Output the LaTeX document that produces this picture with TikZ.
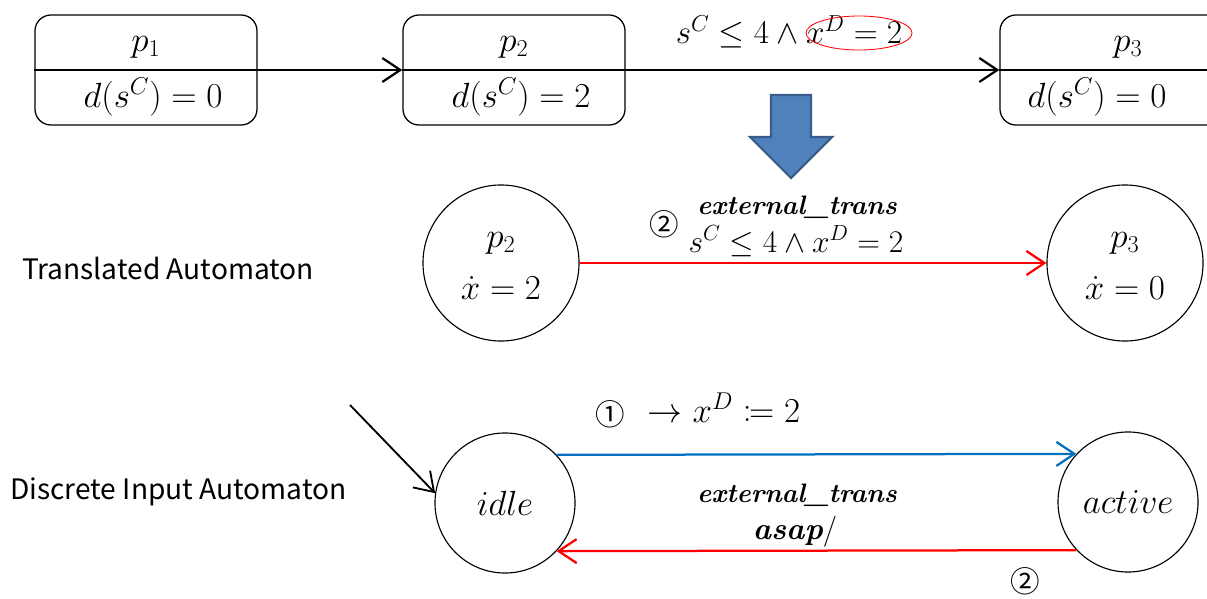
\documentclass[tikz,border=0pt]{standalone}
\usepackage{amsmath}
\usepackage{amssymb}
\usepackage{mathtools}
\usepackage{fontspec}
\newfontfamily\labelfont{Noto Sans CJK KR}
\newfontfamily\circfont{Noto Sans CJK KR}
\usepackage{tikz}
\usetikzlibrary{shapes.geometric, arrows.meta, positioning, calc}
\definecolor{transred}{HTML}{FF0000}
\definecolor{transblue}{HTML}{0070C0}
\definecolor{bigfill}{HTML}{4F81BD}
\definecolor{bigedge}{HTML}{385D8A}

\begin{document}
\begin{tikzpicture}[
  x=0.025cm, y=-0.025cm,
  location/.style={rectangle, draw, rounded corners=0.4cm, line width=0.9pt, minimum width=5.55cm, minimum height=2.75cm},
  mode/.style={circle, draw, line width=0.8pt, minimum size=3.9cm},
  dmode/.style={circle, draw, line width=0.8pt, minimum size=3.5cm, font=\fontsize{24}{28}\selectfont},
  lbl/.style={inner sep=0pt, font=\fontsize{23}{27}\selectfont},
  event/.style={inner sep=0pt, font=\fontsize{19}{24}\selectfont\bfseries\itshape},
  side/.style={inner sep=0pt, anchor=west, font=\labelfont\fontsize{20}{24}\selectfont},
  num/.style={inner sep=0pt, font=\circfont\fontsize{21}{24}\selectfont},
  arrow/.style={-{Straight Barb[length=4.5mm, width=6mm]}, line width=1.6pt},
  bigarrow/.style={fill=bigfill, draw=bigedge, line width=1.5pt, line join=miter}
]
\useasboundingbox (0,0) rectangle (1207,598);
\clip (0,0) rectangle (1207,598);

% Locations
\node[location] (loc1) at (146,70) {};
\node[location] (loc2) at (514,70) {};
\node[location] (loc3) at (1111,70) {};
\foreach \b in {loc1, loc2, loc3}
  \draw[line width=0.9pt] (\b.west) -- (\b.east);
\node[lbl] (name1) at (146,47) {$p_1$};
\node[lbl] (flow1) at (153,97) {$d(s^C) = 0$};
\node[lbl] (name2) at (514,47) {$p_2$};
\node[lbl] (flow2) at (521,97) {$d(s^C) = 2$};
\node[lbl] (name3) at (1128,47) {$p_3$};
\node[lbl] (flow3) at (1097,97) {$d(s^C) = 0$};

% Location edges
\draw[arrow] (loc1.east) -- (loc2.west);
\draw[arrow] (loc2.east) -- (loc3.west);
\node[lbl] (guard) at (789,32) {\scalebox{0.95}{$s^C \leq 4 \wedge x^D = 2$}};
\node[ellipse, draw=transred, line width=0.6pt, minimum width=2.65cm, minimum height=0.85cm] (mark) at (859,33) {};

% Translation arrow
\filldraw[bigarrow] (771,95) -- (811,95) -- (811,137) -- (832,137) -- (791,178) -- (750,137) -- (771,137) -- cycle;

% Translated automaton
\node[side] (trans) at (22,268) {Translated Automaton};
\node[mode] (q2) at (501,263) {};
\node[lbl] (name4) at (501,243) {$p_2$};
\node[lbl] (rate2) at (501,288) {$\dot{x} = 2$};
\node[mode] (q3) at (1125,263) {};
\node[lbl] (name5) at (1125,243) {$p_3$};
\node[lbl] (rate3) at (1125,288) {$\dot{x} = 0$};
\draw[arrow, transred] (q2) -- (q3);
\node[event] (ext1) at (797,207) {external\_trans};
\node[lbl] (guard2) at (796,241) {\scalebox{0.9}{$s^C \leq 4 \wedge x^D = 2$}};
\node[num] (step2a) at (664,224) {②};

% Discrete input automaton
\node[side] (disc) at (10,492) {Discrete Input Automaton};
\node[dmode] (idle) at (505,503) {$idle$};
\node[dmode] (active) at (1128,502) {$active$};
\coordinate (init) at (350,405);
\draw[arrow, line width=1.3pt] (init) -- (idle.172);
\draw[arrow, transblue] (idle.43) -- (active.137);
\draw[arrow, transred] (active.223) -- (idle.-43);
\node[num] (step1) at (610,414) {①};
\node[lbl] (assign) at (724,408) {$\rightarrow x^D \coloneqq 2$};
\node[event] (ext2) at (797,495) {external\_trans};
\node[event, font=\fontsize{22}{26}\selectfont\bfseries\itshape] (asap) at (795,532) {asap\textup{\mdseries/}};
\node[num] (step2b) at (1025,581) {②};

\end{tikzpicture}
\end{document}
